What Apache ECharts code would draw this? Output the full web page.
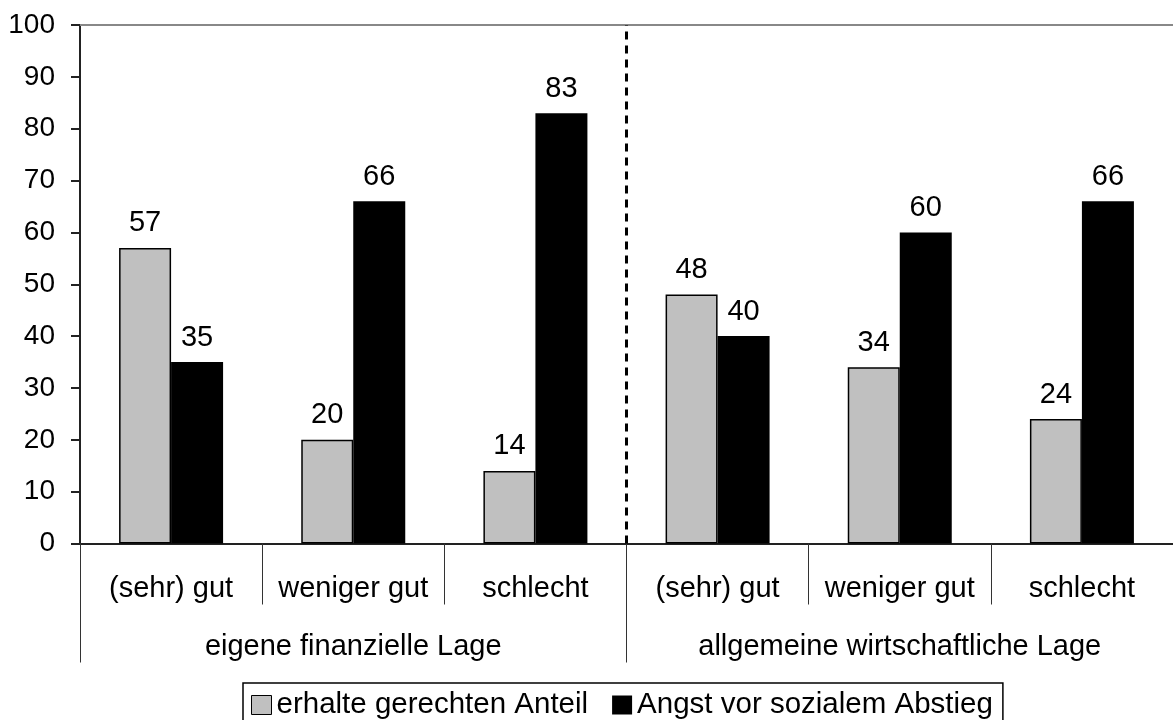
<!DOCTYPE html>
<html>
<head>
<meta charset="utf-8">
<script src="https://cdn.jsdelivr.net/npm/echarts@6/dist/echarts.min.js"></script>
<style>
  html, body { margin: 0; padding: 0; background: #fff; }
  #chart { width: 1173px; height: 720px; }
</style>
</head>
<body>
<div id="chart"></div>
<script>
// Daten
var categories = ["(sehr) gut", "weniger gut", "schlecht", "(sehr) gut", "weniger gut", "schlecht"];
var groups = ["eigene finanzielle Lage", "allgemeine wirtschaftliche Lage"];
var anteil = [57, 20, 14, 48, 34, 24];
var abstieg = [35, 66, 83, 40, 60, 66];
var seriesNames = ["erhalte gerechten Anteil", "Angst vor sozialem Abstieg"];

var font = "Liberation Sans, Arial, sans-serif";
var chart = echarts.init(document.getElementById("chart"));

var option = {
  animation: false,
  textStyle: { fontFamily: font },
  grid: { left: 80, right: 0, top: 25, height: 518.5 },
  legend: {
    left: 243,
    top: 683,
    padding: [7, 10, 8, 8],
    borderColor: "#000",
    borderWidth: 1.5,
    icon: "rect",
    itemWidth: 20,
    itemHeight: 19,
    itemGap: 24,
    textStyle: { fontSize: 29.5, color: "#000", fontFamily: font },
    data: [
      { name: seriesNames[0], itemStyle: { color: "#c0c0c0", borderColor: "#000", borderWidth: 1 } },
      { name: seriesNames[1], itemStyle: { color: "#000" } }
    ]
  },
  xAxis: [
    {
      type: "category",
      data: categories,
      axisLine: { lineStyle: { color: "#222", width: 2 } },
      axisTick: { show: true, inside: false, alignWithLabel: false, length: 61, interval: 0, lineStyle: { color: "#333", width: 1 } },
      axisLabel: { interval: 0, margin: 31, fontSize: 29, color: "#000" }
    },
    {
      type: "category",
      data: groups,
      position: "bottom",
      axisLine: { show: false },
      axisTick: { show: true, inside: false, alignWithLabel: false, length: 119, interval: 0, lineStyle: { color: "#333", width: 1 } },
      axisLabel: { interval: 0, margin: 89, fontSize: 29, color: "#000" }
    },
    {
      // obere Begrenzung
      type: "category",
      data: categories,
      position: "top",
      axisLine: { lineStyle: { color: "#888", width: 2 } },
      axisTick: { show: false },
      axisLabel: { show: false }
    },
    {
      // fuer die gestrichelte Trennlinie
      type: "value",
      min: 0,
      max: 6,
      show: false
    }
  ],
  yAxis: {
    type: "value",
    position: "left",
    min: 0,
    max: 100,
    interval: 10,
    axisLine: { show: true, onZero: false, lineStyle: { color: "#222", width: 2 } },
    axisTick: { show: true, inside: false, length: 9, lineStyle: { color: "#222", width: 2 } },
    axisLabel: { margin: 25, fontSize: 28, color: "#000" },
    splitLine: { show: false }
  },
  series: [
    {
      name: seriesNames[0],
      type: "bar",
      data: anteil,
      barWidth: 52,
      barGap: "0%",
      itemStyle: { color: "#c0c0c0", borderColor: "#000", borderWidth: 1.5 },
      label: { show: true, position: "top", distance: 10, fontSize: 29, color: "#000" }
    },
    {
      name: seriesNames[1],
      type: "bar",
      data: abstieg,
      barWidth: 52,
      itemStyle: { color: "#000" },
      label: { show: true, position: "top", distance: 10, fontSize: 29, color: "#000" }
    },
    {
      type: "line",
      xAxisIndex: 3,
      data: [],
      markLine: {
        silent: true,
        symbol: "none",
        label: { show: false },
        lineStyle: { color: "#000", type: [8, 6], width: 3 },
        data: [{ xAxis: 3 }]
      }
    }
  ]
};

chart.setOption(option);
</script>
</body>
</html>
